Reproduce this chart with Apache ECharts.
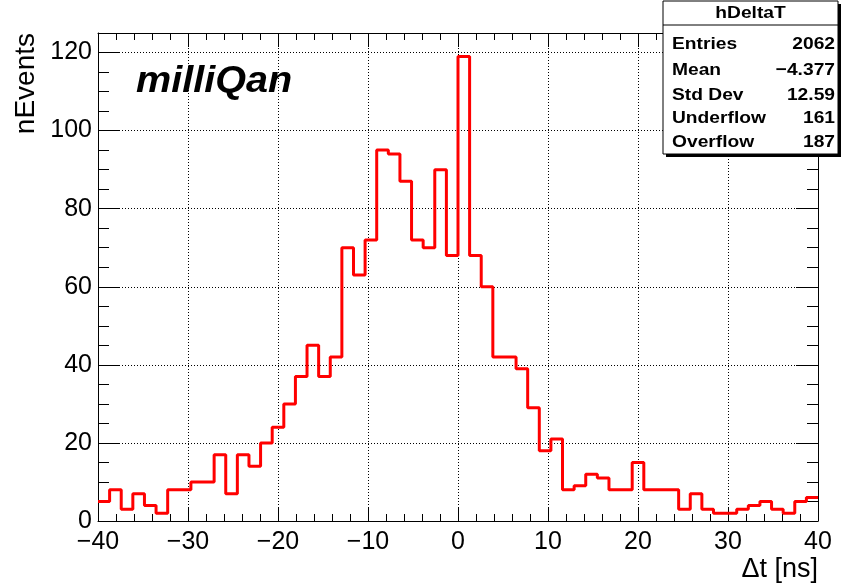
<!DOCTYPE html>
<html>
<head>
<meta charset="utf-8">
<script src="https://cdn.jsdelivr.net/npm/echarts@6/dist/echarts.min.js"></script>
<style>
html,body{margin:0;padding:0;background:#fff;}
#chart{width:842px;height:585px;}
</style>
</head>
<body>
<div id="chart"></div>
<script>
// Histogram definition (62 bins from -40 to 40 ns)
const binMin = -40;
const binMax = 40;
const counts = [
  5, 8, 3, 7, 4, 2, 8, 8, 10, 10,
  17, 7, 17, 14, 20, 24, 30, 37, 45, 37, 42,
  70, 63, 72, 95, 94, 87, 72, 70, 90, 68, 119,
  68, 60, 42, 42, 39, 29, 18, 21, 8, 9,
  12, 11, 8, 8, 15, 8, 8, 8, 3, 7,
  3, 2, 2, 3, 4, 5, 3, 2, 5, 6
];
const statsTitle = 'hDeltaT';
const statsLabels = ['Entries', 'Mean', 'Std Dev', 'Underflow', 'Overflow'];
const statsValues = ['2062', '\u22124.377', '12.59', '161', '187'];
const xTitle = '\u0394t [ns]';
const yTitle = 'nEvents';
const tagText = 'milliQan';

const binWidth = (binMax - binMin) / counts.length;
const stepData = [];
counts.forEach((c, i) => {
  const lo = binMin + i * binWidth;
  const hi = lo + binWidth;
  stepData.push([lo, c]);
  stepData.push([hi, c]);
});

const FONT = '"Liberation Sans", Arial, Helvetica, sans-serif';
const fmtMinus = v => (v < 0 ? '\u2212' + Math.abs(v) : String(v));

const baseX = {
  type: 'value', min: binMin, max: binMax, interval: 10,
  axisLine: { show: true, onZero: false, lineStyle: { color: '#000', width: 1 } },
  axisTick: { show: true, inside: true, length: 14, lineStyle: { color: '#000' } },
  minorTick: { show: true, splitNumber: 5, length: 7, lineStyle: { color: '#000' } },
  splitLine: { show: false }
};
const baseY = {
  type: 'value', min: 0, max: 125, interval: 20,
  axisLine: { show: true, onZero: false, lineStyle: { color: '#000', width: 1 } },
  axisTick: { show: true, inside: true, length: 22, lineStyle: { color: '#000' } },
  minorTick: { show: true, splitNumber: 4, length: 11, lineStyle: { color: '#000' } },
  splitLine: { show: false }
};

const statsX = 663, statsY = 1, statsW = 175, statsH = 153;
const rowY = [44, 70, 95, 118, 142];
const SF = 1.13;
const graphics = [
  { type: 'rect', shape: { x: statsX + 3, y: statsY + 3, width: statsW, height: statsH }, style: { fill: '#000' }, z: 100 },
  { type: 'rect', shape: { x: statsX, y: statsY, width: statsW, height: statsH }, style: { fill: '#fff', stroke: '#000', lineWidth: 1 }, z: 101 },
  { type: 'line', shape: { x1: statsX, y1: 25, x2: statsX + statsW, y2: 25 }, style: { stroke: '#000', lineWidth: 1 }, z: 102 },
  { type: 'text', x: statsX + statsW / 2, y: 13, scaleX: SF, z: 103,
    style: { text: statsTitle, font: 'bold 17px ' + FONT, fill: '#000', align: 'center', verticalAlign: 'middle', textAlign: 'center', textVerticalAlign: 'middle' } },
  { type: 'text', x: 136, y: 82, scaleX: 1.1, z: 103,
    style: { text: tagText, font: 'italic bold 36px ' + FONT, fill: '#000', textAlign: 'left', textVerticalAlign: 'middle', verticalAlign: 'middle' } },
  { type: 'text', x: 818, y: 570, z: 103,
    style: { text: xTitle, font: '27px ' + FONT, fill: '#000', textAlign: 'right', textVerticalAlign: 'middle', verticalAlign: 'middle' } },
  { type: 'text', x: 26, y: 33, rotation: Math.PI / 2, z: 103,
    style: { text: yTitle, font: '28px ' + FONT, fill: '#000', textAlign: 'right', textVerticalAlign: 'middle', verticalAlign: 'middle' } }
];
statsLabels.forEach((lab, i) => {
  graphics.push({ type: 'text', x: 672, y: rowY[i], scaleX: SF, z: 103,
    style: { text: lab, font: 'bold 17px ' + FONT, fill: '#000', textAlign: 'left', textVerticalAlign: 'middle', verticalAlign: 'middle' } });
  graphics.push({ type: 'text', x: 835, y: rowY[i], scaleX: SF, z: 103,
    style: { text: statsValues[i], font: 'bold 17px ' + FONT, fill: '#000', textAlign: 'right', textVerticalAlign: 'middle', verticalAlign: 'middle' } });
});

const chart = echarts.init(document.getElementById('chart'), null, { renderer: 'canvas' });
chart.setOption({
  animation: false,
  backgroundColor: '#fff',
  grid: { left: 98, right: 24, top: 33, bottom: 64, containLabel: false },
  xAxis: [
    Object.assign({}, baseX, {
      position: 'bottom',
      axisLabel: { show: true, color: '#000', fontSize: 25, fontFamily: FONT, margin: 9, formatter: fmtMinus, showMinLabel: true, showMaxLabel: true },
      splitLine: { show: true, lineStyle: { color: '#000', type: [1, 2], width: 1 } }
    }),
    Object.assign({}, baseX, { position: 'top', axisLabel: { show: false } })
  ],
  yAxis: [
    Object.assign({}, baseY, {
      position: 'left',
      axisLabel: { show: true, color: '#000', fontSize: 25, fontFamily: FONT, margin: 6, showMinLabel: true },
      splitLine: { show: true, lineStyle: { color: '#000', type: [1, 2], width: 1 } }
    }),
    Object.assign({}, baseY, { position: 'right', axisLabel: { show: false } })
  ],
  series: [{
    type: 'line',
    xAxisIndex: 0, yAxisIndex: 0,
    data: stepData,
    showSymbol: false,
    symbol: 'none',
    lineStyle: { color: '#ff0000', width: 3 },
    z: 10
  }],
  graphic: graphics
});
</script>
</body>
</html>
